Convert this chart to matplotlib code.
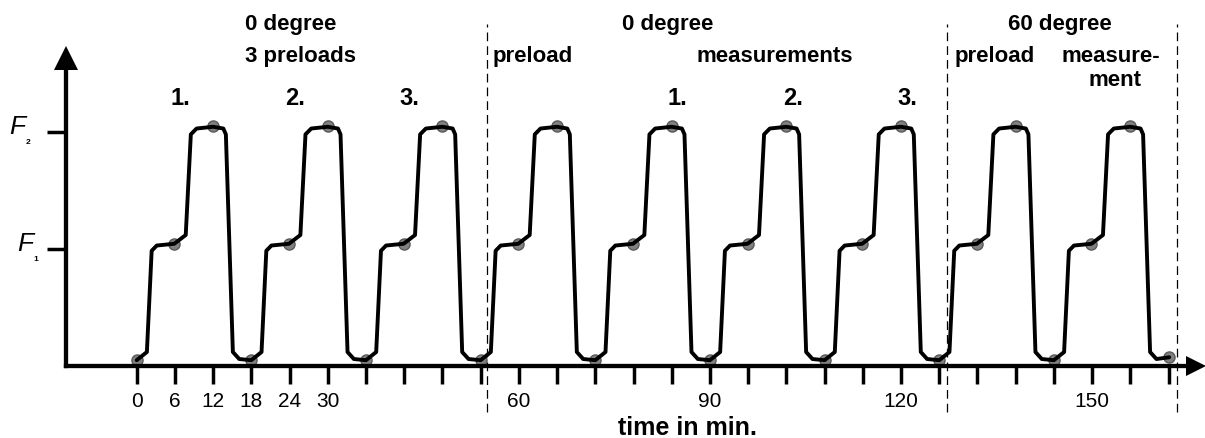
import matplotlib
matplotlib.use('Agg')
import matplotlib.pyplot as plt

plt.rcParams['font.family'] = ['Liberation Sans', 'DejaVu Sans']

# one load cycle: minutes from cycle start, force level (F1 = 1, F2 = 2)
cycle_t = [0, 1.6, 2.35, 3.15, 5.9, 7.7, 8.5, 9.4, 12.0, 13.6, 14.0, 15.1, 16.1]
cycle_f = [0.05, 0.12, 0.985, 1.03, 1.045, 1.12, 1.98, 2.03, 2.045, 2.03, 1.98, 0.12, 0.06]
cycle_starts = [0, 18, 36, 54, 72, 90, 108, 126, 144]
end_t = 162.1
end_f = 0.075

# grey hold points in every cycle
hold_t = [0, 5.9, 12.0]
hold_f = [0.05, 1.045, 2.05]

tick_pos = [0, 6, 12, 18, 24, 30, 36, 42, 48, 54, 60, 66, 72, 78, 84, 90, 96,
            102, 108, 114, 120, 126, 132, 138, 144, 150, 156, 162]
tick_text = {0: '0', 6: '6', 12: '12', 18: '18', 24: '24', 30: '30',
             60: '60', 90: '90', 120: '120', 150: '150'}
section_lines = [55.0, 127.2, 163.3]
force_levels = [1, 2]
force_names = ['1', '2']

Y_AXIS_T = -11.1

t, f = [], []
for c in cycle_starts:
    t += [c + x for x in cycle_t]
    f += cycle_f
t.append(end_t)
f.append(end_f)

dot_t, dot_f = [], []
for c in cycle_starts:
    dot_t += [c + x for x in hold_t]
    dot_f += hold_f
dot_t.append(end_t)
dot_f.append(end_f)

fig = plt.figure(figsize=(12.05, 4.39), dpi=100)
ax = fig.add_axes([0, 0, 1, 1])
ax.set_xlim(-21.46, 167.72)
ax.set_ylim(-0.615, 3.137)

ax.plot(dot_t, dot_f, 'o', ms=8, mfc='#808080', mec='#5a5a5a', mew=1, zorder=2)
ax.plot(t, f, color='black', lw=2.8, solid_joinstyle='round', solid_capstyle='round', zorder=3)

ax.vlines(section_lines, -0.39, 2.92, colors='black', lw=0.9, linestyles=(0, (7, 4)), zorder=1)

# axes with arrow heads
for side in ['top', 'right']:
    ax.spines[side].set_visible(False)
ax.spines['bottom'].set_position(('data', 0))
ax.spines['bottom'].set_bounds(Y_AXIS_T, 166)
ax.spines['left'].set_position(('data', Y_AXIS_T))
ax.spines['left'].set_bounds(0, 2.63)
for side in ['bottom', 'left']:
    ax.spines[side].set_linewidth(3.1)
    ax.spines[side].set_capstyle('projecting')
ax.plot([Y_AXIS_T], [2.637], marker='^', ms=17, color='black', mew=0, clip_on=False)
ax.plot([166.3], [0], marker='>', ms=14, color='black', mew=0, clip_on=False)

ax.set_xticks(tick_pos)
ax.set_xticklabels([tick_text.get(p, '') for p in tick_pos])
ax.tick_params(axis='x', direction='out', length=13, width=2.5, pad=5, labelsize=15)
ax.set_yticks(force_levels)
ax.set_yticklabels(['', ''])
ax.tick_params(axis='y', direction='out', length=13.7, width=2.5)

for lvl, name, fx in zip(force_levels, force_names, [-16.3, -17.5]):
    ax.text(fx, lvl - 0.01, 'F', style='italic', fontsize=19, ha='right', va='baseline')
    ax.text(fx + 0.1, lvl - 0.08, name, fontsize=6, fontweight='bold', ha='left', va='center')

bold = dict(fontsize=16, fontweight='bold', va='baseline')
ax.text(17.0, 2.88, '0 degree', ha='left', **bold)
ax.text(17.0, 2.61, '3 preloads', ha='left', **bold)
ax.text(83.4, 2.88, '0 degree', ha='center', **bold)
ax.text(62.2, 2.61, 'preload', ha='center', **bold)
ax.text(100.1, 2.61, 'measurements', ha='center', **bold)
ax.text(145.0, 2.88, '60 degree', ha='center', **bold)
ax.text(134.7, 2.61, 'preload', ha='center', **bold)
ax.text(152.9, 2.61, 'measure-', ha='center', **bold)
ax.text(153.6, 2.40, 'ment', ha='center', **bold)

for x, s in zip([6.8, 24.85, 42.75, 84.9, 103.0, 121.0], ['1.', '2.', '3.', '1.', '2.', '3.']):
    ax.text(x, 2.24, s, ha='center', fontsize=17, fontweight='bold', va='baseline')

ax.text(86.4, -0.58, 'time in min.', ha='center', va='baseline', fontsize=18, fontweight='bold')

fig.savefig('out.png', dpi=100)
